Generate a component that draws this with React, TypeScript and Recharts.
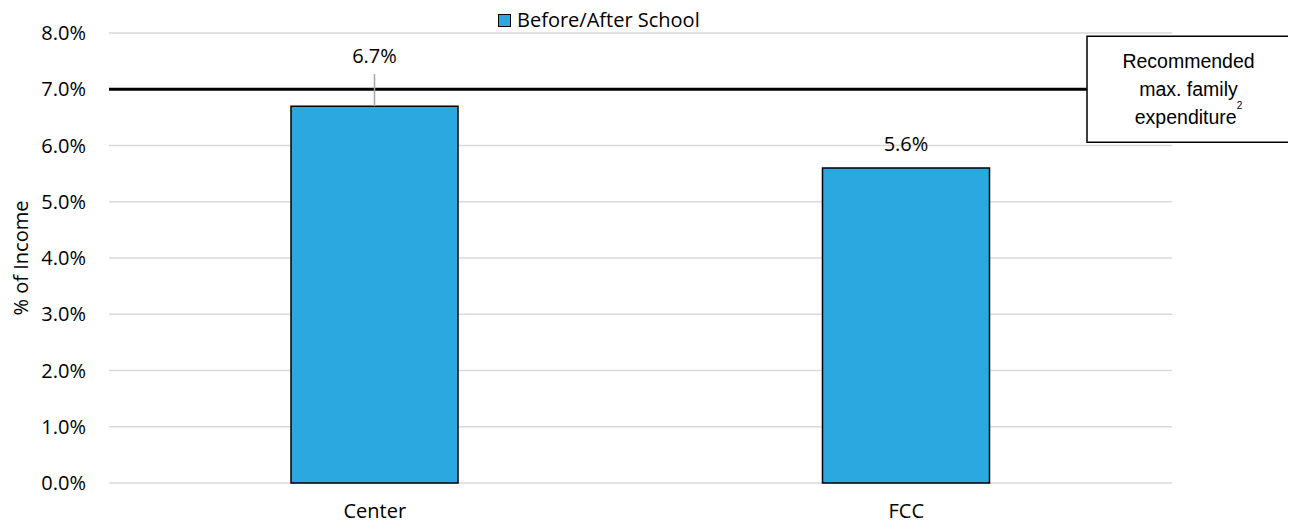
import React from 'react';
import { BarChart, Bar, XAxis, YAxis, CartesianGrid, Legend, ReferenceLine, LabelList } from 'recharts';

// chart values
const categories = ['Center', 'FCC'];
const beforeAfterSchool = [6.7, 5.6];
const yTicks = [0, 1, 2, 3, 4, 5, 6, 7, 8];
const seriesName = 'Before/After School';
const recommendedMax = 7;
const noteLines = ['Recommended', 'max. family', 'expenditure'];
const noteSup = '2';

const data = categories.map((c, i) => ({ category: c, value: beforeAfterSchool[i] }));

const FONT = '"Open Sans", sans-serif';
const BAR_COLOR = '#2CA8E0';

const pct = (v: number) => `${Number(v).toFixed(1)}%`;

// value labels: lift the one that would collide with the reference line and add a leader
const renderValueLabel = (props: any) => {
  const { x, y, width, value } = props;
  const cx = x + width / 2;
  if (recommendedMax - value < 0.5) {
    return (
      <g>
        <line x1={cx} x2={cx} y1={y} y2={y - 32} stroke="#A6A6A6" strokeWidth={1.5} />
        <text x={cx} y={y - 43} textAnchor="middle" fontFamily={FONT} fontSize={20} fill="#000">
          {pct(value)}
        </text>
      </g>
    );
  }
  return (
    <text x={cx} y={y - 17.5} textAnchor="middle" fontFamily={FONT} fontSize={20} fill="#000">
      {pct(value)}
    </text>
  );
};

// callout box at the right end of the recommended line
const renderNote = (props: any) => {
  const vb = props.viewBox || {};
  const bw = 203;
  const bh = 106;
  const bx = vb.x + vb.width - 85;
  const by = vb.y - bh / 2;
  const cx = bx + bw / 2;
  return (
    <g>
      <rect x={bx} y={by} width={bw} height={bh} fill="#fff" stroke="#000" strokeWidth={1.5} />
      <text textAnchor="middle" fontFamily='"Liberation Sans", Arial, sans-serif' fontSize={19.5} fill="#000">
        <tspan x={cx} y={by + 32}>{noteLines[0]}</tspan>
        <tspan x={cx} y={by + 60}>{noteLines[1]}</tspan>
        <tspan x={cx} y={by + 88}>{noteLines[2]}</tspan>
        <tspan dy={-15} fontSize={10}>{noteSup}</tspan>
      </text>
    </g>
  );
};

const renderYLabel = (props: any) => {
  const vb = props.viewBox || {};
  const cy = vb.y + vb.height / 2;
  return (
    <text
      x={12}
      y={cy}
      transform={`rotate(-90, 12, ${cy})`}
      textAnchor="middle"
      dominantBaseline="central"
      fontFamily={FONT}
      fontSize={20}
      fill="#000"
    >
      % of Income
    </text>
  );
};

const renderLegend = (props: any) => {
  const item = (props.payload || [])[0];
  return (
    <div style={{ display: 'flex', alignItems: 'center', fontFamily: FONT, fontSize: 20, lineHeight: '20px', color: '#000', whiteSpace: 'nowrap' }}>
      <span style={{ display: 'inline-block', width: 11, height: 11, background: BAR_COLOR, border: '1.5px solid #000', marginRight: 6 }} />
      <span>{item ? item.value : seriesName}</span>
    </div>
  );
};

const App: React.FC = () => {
  return (
    <div style={{ width: 1288, height: 517, fontFamily: FONT }}>
      <BarChart width={1288} height={517} data={data} margin={{ top: 25, right: 124, left: 0, bottom: 0 }}>
        <CartesianGrid vertical={false} stroke="#D9D9D9" strokeWidth={1.5} />
        <XAxis
          dataKey="category"
          axisLine={false}
          tickLine={false}
          tickSize={0}
          tickMargin={21}
          height={42}
          tick={{ fill: '#000', fontSize: 20, fontFamily: FONT }}
        />
        <YAxis
          domain={[0, 8]}
          ticks={yTicks}
          tickFormatter={pct}
          axisLine={false}
          tickLine={false}
          tickSize={0}
          tickMargin={23}
          width={101}
          tick={{ fill: '#000', fontSize: 20, fontFamily: FONT }}
          label={renderYLabel}
        />
        <Legend
          verticalAlign="middle"
          align="center"
          content={renderLegend}
          wrapperStyle={{ top: 2, left: 490, width: 'auto', height: 'auto' }}
        />
        <Bar dataKey="value" name={seriesName} fill={BAR_COLOR} stroke="#000" strokeWidth={1.5} barSize={167} isAnimationActive={false}>
          <LabelList dataKey="value" content={renderValueLabel} />
        </Bar>
        <ReferenceLine y={recommendedMax} stroke="#000" strokeWidth={3} label={renderNote} />
      </BarChart>
    </div>
  );
};

export default App;
